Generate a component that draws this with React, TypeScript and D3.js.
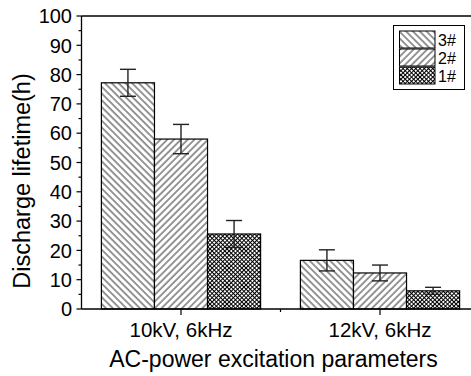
import React from "react";
import * as d3 from "d3";

const categories = ["10kV, 6kHz", "12kV, 6kHz"];
const seriesNames = ["3#", "2#", "1#"];
const values3 = [77.2, 16.6];
const values2 = [58.0, 12.3];
const values1 = [25.6, 6.2];
const errors3 = [4.6, 3.6];
const errors2 = [5.0, 2.7];
const errors1 = [4.6, 1.2];
const yTicks = [0, 10, 20, 30, 40, 50, 60, 70, 80, 90, 100];

const W = 471;
const H = 376;
const left = 81.5;
const top = 16;
const bottom = 309;
const right = 479.5;

export default function App() {
  const y = d3.scaleLinear().domain([0, 100]).range([bottom, top]);
  const xg = d3.scaleBand<string>().domain(categories).range([left, right]).padding(0);
  const groupW = xg.bandwidth() * 0.8;
  const xs = d3.scaleBand<string>().domain(seriesNames).range([-groupW / 2, groupW / 2]).padding(0);
  const vals = [values3, values2, values1];
  const errs = [errors3, errors2, errors1];
  const pats = ["p3", "p2", "p1"];
  const minor = d3.range(5, 100, 10);
  const font = "Arial, 'Liberation Sans', sans-serif";
  const legX = 393.5, legY = 25.5, legW = 71, legH = 64;
  const rowYs = [31, 49, 67];

  return (
    <svg width={W} height={H} style={{ position: "absolute", left: 0, top: 0, background: "#fff" }} fontFamily={font}>
      <defs>
        <pattern id="p3" patternUnits="userSpaceOnUse" width={4.8} height={10} patternTransform="rotate(-45)">
          <rect width={4.8} height={10} fill="#fff" />
          <line x1={1} y1={0} x2={1} y2={10} stroke="#111" strokeWidth={0.9} />
        </pattern>
        <pattern id="p2" patternUnits="userSpaceOnUse" width={4.8} height={10} patternTransform="rotate(45)">
          <rect width={4.8} height={10} fill="#fff" />
          <line x1={1} y1={0} x2={1} y2={10} stroke="#111" strokeWidth={0.9} />
        </pattern>
        <pattern id="p1" patternUnits="userSpaceOnUse" width={3} height={3} patternTransform="rotate(45)">
          <rect width={3} height={3} fill="#fff" />
          <line x1={0.5} y1={0} x2={0.5} y2={3} stroke="#000" strokeWidth={1} />
          <line x1={0} y1={0.5} x2={3} y2={0.5} stroke="#000" strokeWidth={1} />
        </pattern>
      </defs>

      {/* bars */}
      {categories.map((c, ci) =>
        seriesNames.map((s, si) => {
          const x0 = (xg(c) as number) + xg.bandwidth() / 2 + (xs(s) as number);
          const v = vals[si][ci];
          return (
            <rect key={c + s} x={x0} y={y(v)} width={xs.bandwidth()} height={y(0) - y(v)}
              fill={`url(#${pats[si]})`} stroke="#000" strokeWidth={1.2} />
          );
        })
      )}

      {/* error bars */}
      {categories.map((c, ci) =>
        seriesNames.map((s, si) => {
          const cx = (xg(c) as number) + xg.bandwidth() / 2 + (xs(s) as number) + xs.bandwidth() / 2;
          const v = vals[si][ci];
          const e = errs[si][ci];
          return (
            <g key={"e" + c + s} stroke="#222" strokeWidth={1.4}>
              <line x1={cx} x2={cx} y1={y(v + e)} y2={y(v - e)} />
              <line x1={cx - 8} x2={cx + 8} y1={y(v + e)} y2={y(v + e)} />
              <line x1={cx - 8} x2={cx + 8} y1={y(v - e)} y2={y(v - e)} />
            </g>
          );
        })
      )}

      {/* frame */}
      <line x1={left} x2={W} y1={top} y2={top} stroke="#000" strokeWidth={1.3} />
      <line x1={left} x2={left} y1={top} y2={bottom} stroke="#000" strokeWidth={1.3} />
      <line x1={left} x2={W} y1={bottom} y2={bottom} stroke="#000" strokeWidth={1.3} />

      {/* y ticks */}
      {yTicks.map((t) => (
        <g key={"yt" + t}>
          <line x1={left - 5} x2={left} y1={y(t)} y2={y(t)} stroke="#000" strokeWidth={1.2} />
          <text x={72} y={y(t)} dy="0.36em" textAnchor="end" fontSize={20}>{t}</text>
        </g>
      ))}
      {minor.map((t) => (
        <line key={"ym" + t} x1={left - 3} x2={left} y1={y(t)} y2={y(t)} stroke="#000" strokeWidth={1.2} />
      ))}

      {/* x ticks */}
      {categories.map((c) => {
        const cx = (xg(c) as number) + xg.bandwidth() / 2;
        return (
          <g key={"xt" + c}>
            <line x1={cx} x2={cx} y1={bottom} y2={bottom + 6} stroke="#000" strokeWidth={1.2} />
            <text x={cx} y={bottom + 28} textAnchor="middle" fontSize={20.5}>{c}</text>
          </g>
        );
      })}
      {categories.slice(1).map((c) => (
        <line key={"xm" + c} x1={xg(c) as number} x2={xg(c) as number} y1={bottom} y2={bottom + 3} stroke="#000" strokeWidth={1.2} />
      ))}

      {/* axis titles */}
      <text x={273.5} y={367} textAnchor="middle" fontSize={23}>AC-power excitation parameters</text>
      <text transform="translate(30,181) rotate(-90)" textAnchor="middle" fontSize={23.5}>Discharge lifetime(h)</text>

      {/* legend */}
      <rect x={legX} y={legY} width={legW} height={legH} fill="#fff" stroke="#000" strokeWidth={1} />
      {seriesNames.map((s, si) => (
        <g key={"lg" + s}>
          <rect x={399.5} y={rowYs[si]} width={35.5} height={17} fill={`url(#${pats[si]})`} stroke="#000" strokeWidth={1} />
          <text x={438} y={rowYs[si] + 9} dy="0.36em" fontSize={16}>{s}</text>
        </g>
      ))}
    </svg>
  );
}
